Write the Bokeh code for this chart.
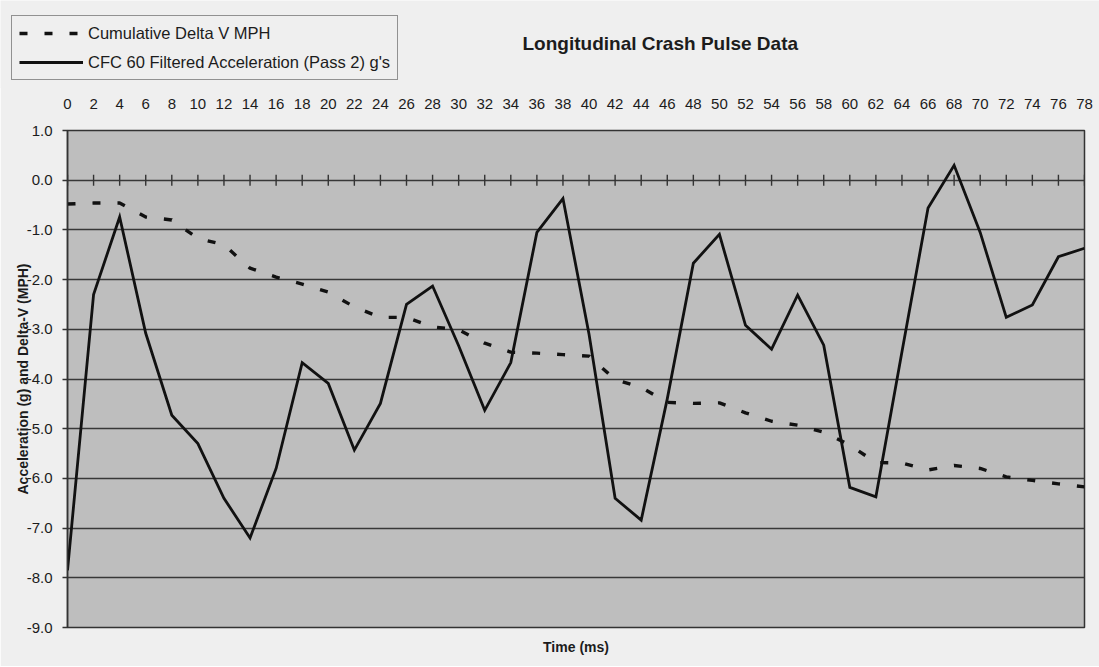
import numpy as np
from bokeh.plotting import figure
from bokeh.models import (Range1d, FixedTicker, PrintfTickFormatter, LinearAxis,
                          Legend, LegendItem, Label, ColumnDataSource)
from bokeh.embed import file_html
from bokeh.resources import INLINE

# ---------------- data ----------------
time_ms = [0, 2, 4, 6, 8, 10, 12, 14, 16, 18, 20, 22, 24, 26, 28, 30, 32, 34, 36, 38,
           40, 42, 44, 46, 48, 50, 52, 54, 56, 58, 60, 62, 64, 66, 68, 70, 72, 74, 76, 78]

accel_g = [-7.85, -2.30, -0.74, -3.08, -4.73, -5.30, -6.40, -7.20, -5.80, -3.67,
           -4.09, -5.43, -4.49, -2.50, -2.13, -3.33, -4.63, -3.67, -1.05, -0.37,
           -3.10, -6.40, -6.84, -4.40, -1.67, -1.09, -2.92, -3.40, -2.31, -3.32,
           -6.18, -6.37, -3.45, -0.56, 0.30, -1.05, -2.76, -2.51, -1.54, -1.37]

delta_v_mph = [-0.48, -0.46, -0.46, -0.74, -0.80, -1.17, -1.30, -1.77, -1.95, -2.09,
               -2.25, -2.55, -2.76, -2.76, -2.95, -3.01, -3.28, -3.46, -3.48, -3.51,
               -3.54, -4.01, -4.17, -4.47, -4.49, -4.48, -4.68, -4.85, -4.93, -5.07,
               -5.33, -5.68, -5.69, -5.83, -5.74, -5.80, -5.97, -6.04, -6.11, -6.17]

y_ticks = [-9.0, -8.0, -7.0, -6.0, -5.0, -4.0, -3.0, -2.0, -1.0, 0.0, 1.0]

title_text = "Longitudinal Crash Pulse Data"
x_title = "Time (ms)"
y_title = "Acceleration (g) and Delta-V (MPH)"
legend_labels = ["Cumulative Delta V MPH", "CFC 60 Filtered Acceleration (Pass 2) g's"]

# ---------------- styling ----------------
FONT = "Liberation Sans"
TXT = "#1c1c1c"
OUTER = "#efefef"
PLOTBG = "#bebebe"
GRID = "#383838"
LINE = "#111111"
W = 1099
H_TOP = 88
H_MAIN = 667 - H_TOP
DASH = "8 17"

# ---------------- header (legend + title) ----------------
head = figure(width=W, height=H_TOP, x_range=Range1d(0, 1), y_range=Range1d(0, 1),
              output_backend="svg", toolbar_location=None,
              min_border=0, outline_line_color=None,
              background_fill_color=OUTER, border_fill_color=OUTER)
head.axis.visible = False
head.grid.visible = False

# legend key samples (no visible data of their own)
k_dv = head.line(x=[np.nan], y=[np.nan], line_color=LINE, line_width=3.4, line_dash=DASH)
k_acc = head.line(x=[np.nan], y=[np.nan], line_color=LINE, line_width=2.8)

legend = Legend(items=[LegendItem(label=legend_labels[0], renderers=[k_dv]),
                       LegendItem(label=legend_labels[1], renderers=[k_acc])],
                location=(11, 8), orientation="vertical",
                label_text_font=FONT, label_text_font_size="16.5px",
                label_text_color=TXT,
                glyph_width=64, glyph_height=20, label_height=20,
                label_standoff=5, padding=7, spacing=9, margin=0,
                border_line_color="#333333", border_line_width=1.5,
                background_fill_color=OUTER, background_fill_alpha=1.0)
head.add_layout(legend)

head.add_layout(Label(x=522, y=45, x_units="screen", y_units="screen",
                      text=title_text, text_font=FONT, text_font_size="19px",
                      text_font_style="bold", text_color=TXT,
                      text_align="left", text_baseline="middle"))

# ---------------- main chart ----------------
p = figure(width=W, height=H_MAIN,
           x_range=Range1d(time_ms[0], time_ms[-1]),
           y_range=Range1d(y_ticks[0], y_ticks[-1]),
           x_axis_location="above", y_axis_location="left",
           output_backend="svg", toolbar_location=None,
           min_border_left=67, min_border_right=15,
           min_border_top=43, min_border_bottom=39,
           background_fill_color=PLOTBG, border_fill_color=OUTER,
           outline_line_color="#333333", outline_line_width=1.5)
p.styles = {"margin-top": "-1px"}

xa = p.xaxis[0]
xa.ticker = FixedTicker(ticks=time_ms)
xa.major_tick_out = 0
xa.major_tick_in = 0
xa.minor_tick_out = 0
xa.minor_tick_in = 0
xa.axis_line_color = None
xa.major_label_standoff = 22
xa.major_label_text_font = FONT
xa.major_label_text_font_size = "15px"
xa.major_label_text_color = TXT

ya = p.yaxis[0]
ya.ticker = FixedTicker(ticks=y_ticks)
ya.formatter = PrintfTickFormatter(format="%.1f")
ya.major_tick_out = 5
ya.major_tick_in = 0
ya.minor_tick_out = 0
ya.minor_tick_in = 0
ya.axis_line_color = "#333333"
ya.axis_line_width = 1.5
ya.major_tick_line_color = "#333333"
ya.major_tick_line_width = 1.3
ya.major_label_standoff = 10
ya.major_label_text_font = FONT
ya.major_label_text_font_size = "15px"
ya.major_label_text_color = TXT
ya.axis_label = y_title
ya.axis_label_standoff = -7
ya.axis_label_text_font = FONT
ya.axis_label_text_font_size = "14px"
ya.axis_label_text_font_style = "bold"
ya.axis_label_text_color = TXT

xb = LinearAxis(ticker=FixedTicker(ticks=[]), axis_label=x_title,
                axis_line_color=None, major_tick_out=0, major_tick_in=0,
                minor_tick_out=0, minor_tick_in=0,
                major_label_text_font_size="0px",
                axis_label_standoff=11,
                axis_label_text_font=FONT, axis_label_text_font_size="14px",
                axis_label_text_font_style="bold", axis_label_text_color=TXT)
p.add_layout(xb, "below")

p.xgrid.visible = False
p.ygrid.grid_line_color = GRID
p.ygrid.grid_line_width = 1.6

# category tick marks on the zero line
p.scatter(x=time_ms, y=[0.0] * len(time_ms), marker="dash", size=11,
          angle=np.pi / 2, line_color="#333333", line_width=1.4)

src = ColumnDataSource(dict(t=time_ms, acc=accel_g, dv=delta_v_mph))
p.line("t", "dv", source=src, line_color=LINE, line_width=3.4, line_dash=DASH)
p.line("t", "acc", source=src, line_color=LINE, line_width=2.8, line_join="miter")

open("out.html", "w").write(file_html([head, p], INLINE))
